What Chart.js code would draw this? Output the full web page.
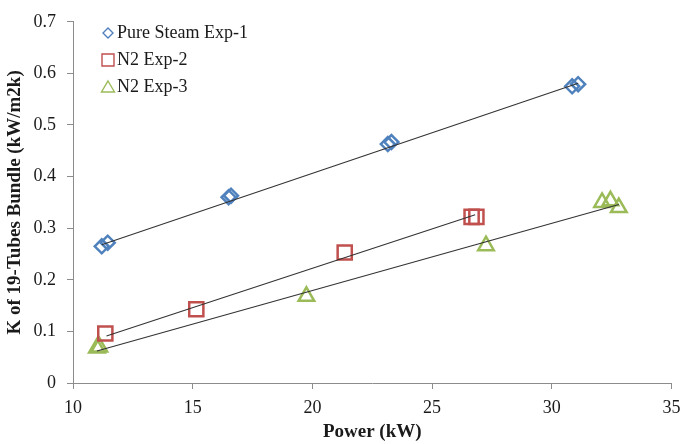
<!DOCTYPE html>
<html>
<head>
<meta charset="utf-8">
<script src="https://cdn.jsdelivr.net/npm/chart.js@4.4.1/dist/chart.umd.min.js"></script>
<style>
  html, body { margin: 0; padding: 0; background: #fff; }
</style>
</head>
<body>
<canvas id="chart" width="684" height="444"></canvas>
<script>
// Values
const steamPower = [11.2, 11.45, 16.5, 16.6, 23.15, 23.3, 30.85, 31.1];
const steamK     = [0.265, 0.272, 0.360, 0.363, 0.463, 0.467, 0.575, 0.579];

const exp2Power = [11.35, 15.15, 21.35, 26.65, 26.85];
const exp2K     = [0.096, 0.143, 0.253, 0.322, 0.322];

const exp3Power = [11.0, 11.1, 19.75, 27.25, 32.1, 32.45, 32.8];
const exp3K     = [0.068, 0.070, 0.168, 0.266, 0.350, 0.353, 0.340];

// linear trend lines (end points)
const steamTrendPower = [11.2, 31.1];
const steamTrendK     = [0.268, 0.581];
const exp2TrendPower  = [11.4, 26.8];
const exp2TrendK      = [0.091, 0.326];
const exp3TrendPower  = [11.0, 32.8];
const exp3TrendK      = [0.062, 0.346];

const xTicks = [10, 15, 20, 25, 30, 35];
const yTicks = [0, 0.1, 0.2, 0.3, 0.4, 0.5, 0.6, 0.7];

const seriesNames = ['Pure Steam Exp-1', 'N2 Exp-2', 'N2 Exp-3'];
const BLUE = '#4f81bd', RED = '#c0504d', GREEN = '#9bbb59';

const pts = (xs, ys) => xs.map((x, i) => ({ x, y: ys[i] }));

const trend = (xs, ys) => ({
  type: 'line',
  data: pts(xs, ys),
  borderColor: '#333',
  borderWidth: 1.1,
  pointRadius: 0,
  fill: false,
  order: 0,
});

const marks = (label, xs, ys, color, style, r) => ({
  type: 'scatter',
  label,
  data: pts(xs, ys),
  pointStyle: style,
  pointRadius: r,
  pointBorderColor: color,
  pointBackgroundColor: 'rgba(0,0,0,0)',
  pointBorderWidth: 2.5,
  order: 1,
});

// legend drawn inside the plot, top-left, like the Excel original
const insideLegend = {
  id: 'insideLegend',
  afterDraw(chart) {
    const ctx = chart.ctx;
    const colors = [BLUE, RED, GREEN];
    ctx.save();
    ctx.font = '18px "Liberation Serif"';
    ctx.textBaseline = 'middle';
    ctx.fillStyle = '#1a1a1a';
    seriesNames.forEach((name, i) => {
      const cx = 108, cy = 33 + i * 27;
      ctx.strokeStyle = colors[i];
      ctx.lineWidth = 1.4;
      ctx.beginPath();
      if (i === 0) {
        ctx.moveTo(cx, cy - 5); ctx.lineTo(cx + 5, cy);
        ctx.lineTo(cx, cy + 5); ctx.lineTo(cx - 5, cy); ctx.closePath();
      } else if (i === 1) {
        ctx.rect(cx - 6, cy - 6, 12, 12);
      } else {
        ctx.moveTo(cx, cy - 6); ctx.lineTo(cx + 6.5, cy + 5);
        ctx.lineTo(cx - 6.5, cy + 5); ctx.closePath();
      }
      ctx.stroke();
      ctx.fillText(name, 117, cy);
    });
    ctx.restore();
  }
};

new Chart(document.getElementById('chart').getContext('2d'), {
  type: 'scatter',
  data: {
    datasets: [
      trend(steamTrendPower, steamTrendK),
      trend(exp2TrendPower, exp2TrendK),
      trend(exp3TrendPower, exp3TrendK),
      marks(seriesNames[0], steamPower, steamK, BLUE, 'rectRot', 7),
      marks(seriesNames[1], exp2Power, exp2K, RED, 'rect', 10),
      marks(seriesNames[2], exp3Power, exp3K, GREEN, 'triangle', 9),
    ],
  },
  options: {
    responsive: false,
    animation: false,
    layout: { padding: { left: 0, right: 0, top: 13, bottom: 0 } },
    plugins: {
      legend: { display: false },
      tooltip: { enabled: false },
    },
    scales: {
      x: {
        type: 'linear',
        min: 10,
        max: 35,
        afterBuildTicks(s) { s.ticks = xTicks.map(v => ({ value: v })); },
        afterFit(s) { s.height = 61; s.paddingRight = 0; },
        ticks: { color: '#1a1a1a', padding: 8, font: { family: 'Liberation Serif', size: 18 } },
        grid: { drawOnChartArea: false, color: '#8c8c8c', tickLength: 6, tickColor: '#8c8c8c' },
        border: { color: '#8c8c8c', width: 1 },
        title: {
          display: true,
          text: 'Power (kW)',
          color: '#1a1a1a',
          padding: { top: 0, bottom: 1 },
          font: { family: 'Liberation Serif', size: 19, weight: 'bold' },
        },
      },
      y: {
        min: 0,
        max: 0.7,
        afterBuildTicks(s) { s.ticks = yTicks.map(v => ({ value: v })); },
        afterFit(s) { s.width = 73; },
        ticks: { color: '#1a1a1a', padding: 11, font: { family: 'Liberation Serif', size: 18 } },
        grid: { drawOnChartArea: false, color: '#8c8c8c', tickLength: 6, tickColor: '#8c8c8c' },
        border: { color: '#8c8c8c', width: 1 },
        title: {
          display: true,
          text: 'K of 19-Tubes Bundle (kW/m2k)',
          color: '#1a1a1a',
          padding: { top: 4, bottom: 0 },
          font: { family: 'Liberation Serif', size: 19, weight: 'bold' },
        },
      },
    },
  },
  plugins: [insideLegend],
});
</script>
</body>
</html>
